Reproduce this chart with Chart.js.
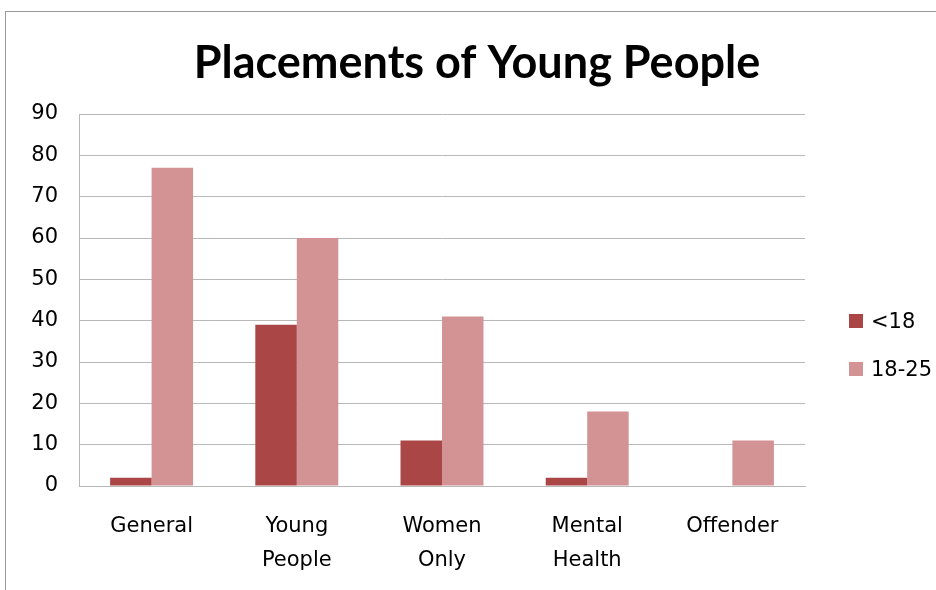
<!DOCTYPE html>
<html>
<head>
<meta charset="utf-8">
<title>Placements of Young People</title>
<script src="https://cdn.jsdelivr.net/npm/chart.js@4.4.1/dist/chart.umd.min.js"></script>
<style>
  html, body { margin: 0; padding: 0; background: #fff; }
  #wrap { position: relative; width: 936px; height: 590px; overflow: hidden; }
  /* grey frame round the chart area, runs off the right and bottom edges */
  #frame { position: absolute; left: 5px; top: 11px; width: 980px; height: 620px; border: 1px solid #999; box-sizing: border-box; }
  canvas { position: absolute; left: 0; top: 0; }
</style>
</head>
<body>
<div id="wrap">
  <div id="frame"></div>
  <canvas id="myChart" width="936" height="590"></canvas>
</div>
<script>
// placement types (two-line labels are arrays)
const categories = ['General', ['Young', 'People'], ['Women', 'Only'], ['Mental', 'Health'], 'Offender'];
const seriesLabels = ['<18', '18-25'];
const under18 = [2, 39, 11, 2, 0];
const age18to25 = [77, 60, 41, 18, 11];
// value axis
const yMin = 0;
const yMax = 90;
const yStep = 10;

const darkRed = '#AA4645';
const lightRed = '#D39293';
const gridGrey = '#b8b8b8';
const labelFont = { family: '"DejaVu Sans", sans-serif', size: 21 };

// legend drawn to the right of the plot, a bit below its middle
const sideLegend = {
  id: 'sideLegend',
  afterDraw(chart) {
    const ctx = chart.ctx;
    const area = chart.chartArea;
    ctx.save();
    ctx.font = '21px "DejaVu Sans", sans-serif';
    ctx.textBaseline = 'middle';
    ctx.textAlign = 'left';
    chart.data.datasets.forEach((ds, i) => {
      const y = area.top + 207 + i * 48;
      ctx.fillStyle = ds.backgroundColor;
      ctx.fillRect(area.right + 44, y - 7, 14, 14);
      ctx.fillStyle = '#000';
      ctx.fillText(ds.label, area.right + 66, y + 2);
    });
    ctx.restore();
  }
};

const ctx = document.getElementById('myChart').getContext('2d');

new Chart(ctx, {
  type: 'bar',
  data: {
    labels: categories,
    datasets: [
      { label: seriesLabels[0], data: under18, backgroundColor: darkRed },
      { label: seriesLabels[1], data: age18to25, backgroundColor: lightRed }
    ]
  },
  options: {
    responsive: false,
    devicePixelRatio: 1,
    animation: false,
    layout: { padding: { left: 18, right: 0, top: 0, bottom: 0 } },
    datasets: {
      bar: { categoryPercentage: 2 / 3.5, barPercentage: 1, borderWidth: 0 }
    },
    plugins: {
      legend: { display: false },
      tooltip: { enabled: false },
      title: {
        display: true,
        text: 'Placements of Young People',
        color: '#000',
        font: { family: 'Lato, sans-serif', size: 45, weight: 'bold' },
        padding: { top: 36, bottom: 24 }
      }
    },
    scales: {
      x: {
        grid: { display: false, drawTicks: false },
        border: { display: true, color: gridGrey, width: 1 },
        ticks: { color: '#000', font: { ...labelFont, lineHeight: 1.65 }, padding: 23, maxRotation: 0 },
        afterFit(scale) { scale.height = 104; }
      },
      y: {
        min: yMin,
        max: yMax,
        grid: { color: gridGrey, lineWidth: 1, drawTicks: false },
        border: { display: true, color: gridGrey, width: 1 },
        ticks: { stepSize: yStep, color: '#000', font: labelFont, padding: 21 },
        afterFit(scale) { scale.width = 61; }
      },
      // empty axis that keeps room for the legend on the right
      side: {
        position: 'right',
        display: true,
        grid: { display: false, drawTicks: false },
        border: { display: false },
        ticks: { display: false },
        afterFit(scale) { scale.width = 131; }
      }
    }
  },
  plugins: [sideLegend]
});
</script>
</body>
</html>
